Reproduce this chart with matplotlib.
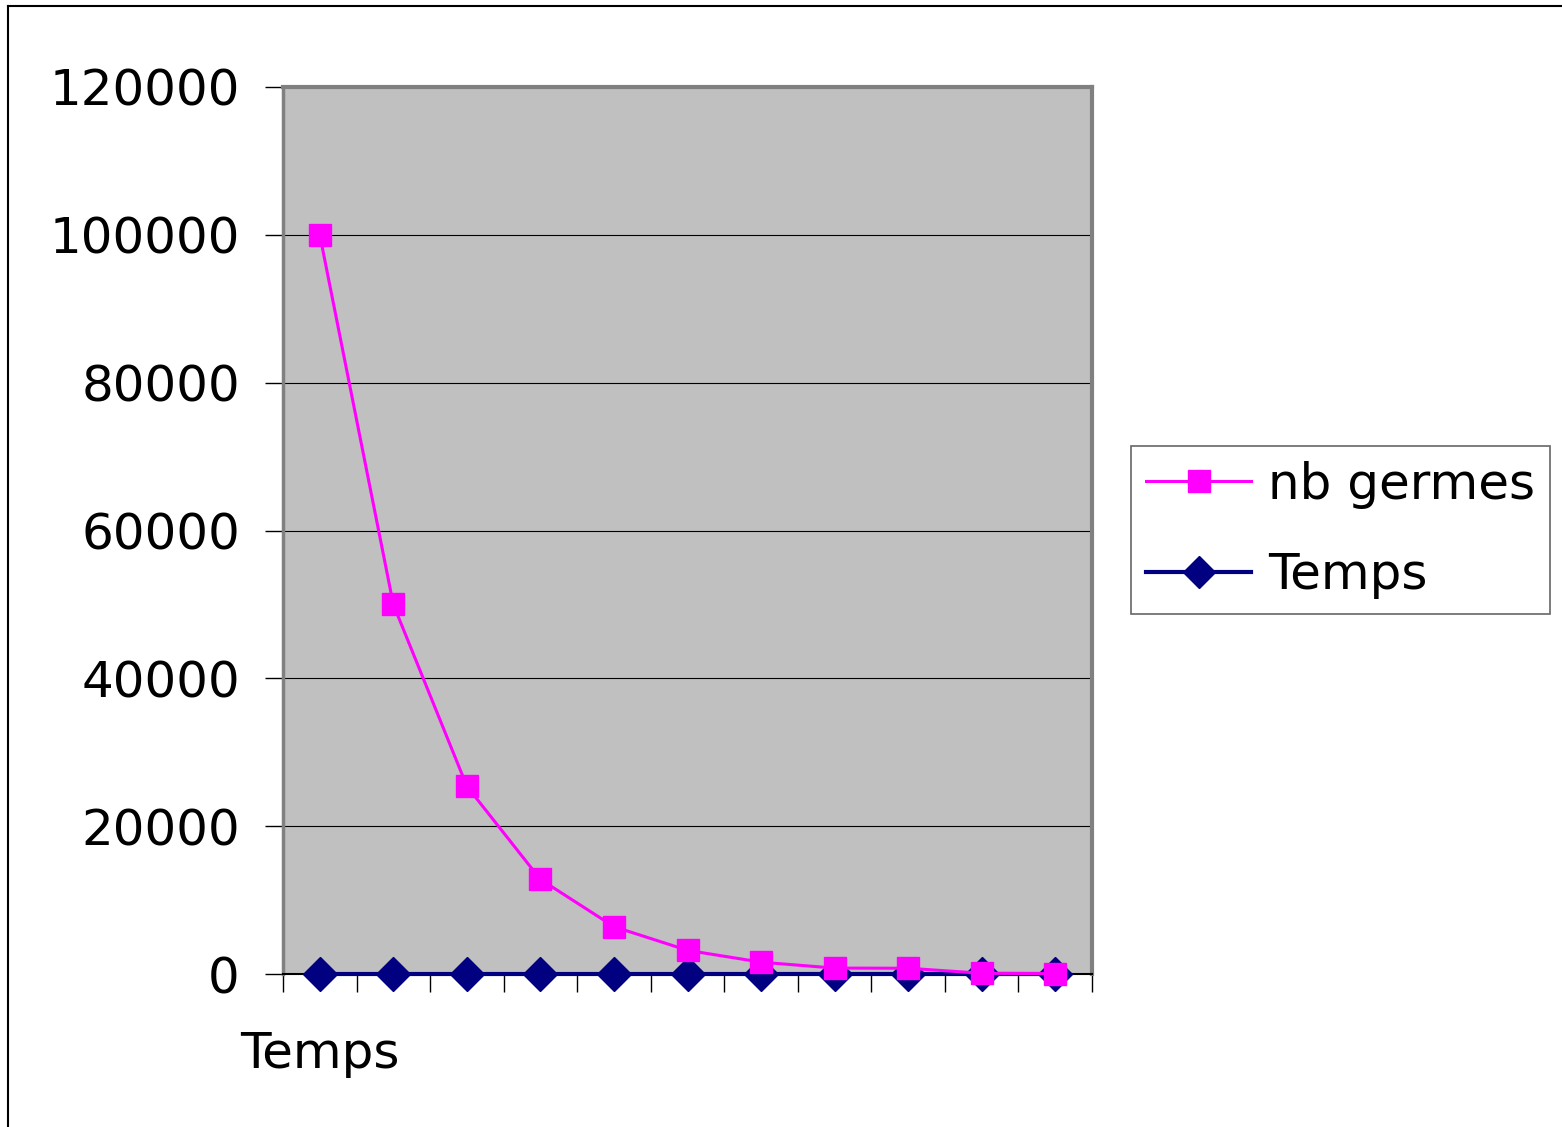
import matplotlib
matplotlib.use("Agg")
import matplotlib.pyplot as plt
from matplotlib.lines import Line2D
import numpy as np

plt.rcParams['font.family'] = ['DejaVu Sans']

categories = ["Temps", "", "", "", "", "", "", "", "", "", ""]
nb_germes = [100000, 50000, 25400, 12800, 6400, 3200, 1600, 800, 780, 100, 50]
temps = [0, 0, 0, 0, 0, 0, 0, 0, 0, 0, 0]
y_ticks = [0, 20000, 40000, 60000, 80000, 100000, 120000]

W, H = 1562, 1127
FS = 36
fig = plt.figure(figsize=(W / 100, H / 100), dpi=100)
ax = fig.add_axes([283 / W, 1 - 974 / H, (1092 - 283) / W, (974 - 87) / H])
ax.set_facecolor('#C0C0C0')

n = len(categories)
x = np.arange(n)
ax.set_xlim(-0.5, n - 0.5)
ax.set_ylim(0, 120000)

for yv in y_ticks[1:-1]:
    ax.axhline(yv, color='black', lw=0.8, zorder=1)

ax.plot(x, temps, color='#000080', lw=3, marker='D', markersize=17,
        markerfacecolor='#000080', markeredgecolor='#000080', zorder=3, clip_on=False)
ax.plot(x, nb_germes, color='#FF00FF', lw=2.2, marker='s', markersize=16,
        markerfacecolor='#FF00FF', markeredgecolor='#FF00FF', zorder=4, clip_on=False)

# y axis
ax.set_yticks(y_ticks)
ax.set_yticklabels([str(v) for v in y_ticks], fontsize=FS)
ax.tick_params(axis='y', direction='out', length=13, width=1, color='black', pad=18)

# x axis: boundary ticks, category labels
ax.set_xticks(np.arange(n + 1) - 0.5)
ax.set_xticklabels([])
ax.tick_params(axis='x', which='major', direction='out', length=13, width=1, color='black')
ax.set_xticks(x, minor=True)
ax.set_xticklabels(categories, minor=True, fontsize=FS)
ax.tick_params(axis='x', which='minor', length=0, pad=40)

for side in ['top', 'right']:
    ax.spines[side].set_color('#808080')
    ax.spines[side].set_linewidth(3)
ax.spines['left'].set_color('#808080')
ax.spines['left'].set_linewidth(2.5)
ax.spines['bottom'].set_color('black')
ax.spines['bottom'].set_linewidth(1.5)

handles = [
    Line2D([], [], color='#FF00FF', lw=2.2, marker='s', markersize=16,
           markerfacecolor='#FF00FF', markeredgecolor='#FF00FF'),
    Line2D([], [], color='#000080', lw=3, marker='D', markersize=16,
           markerfacecolor='#000080', markeredgecolor='#000080'),
]
leg = fig.legend(handles, ['nb germes', 'Temps'], loc='center left',
                 bbox_to_anchor=(1131 / W, 1 - 530 / H), fontsize=FS,
                 frameon=True, fancybox=False, edgecolor='#404040',
                 handlelength=2.1, handletextpad=0.34, borderpad=0.3,
                 labelspacing=0.85, borderaxespad=0)
leg.get_frame().set_linewidth(1.2)

# outer chart frame (left and top edges)
fig.add_artist(Line2D([8 / W, 8 / W], [0, 1 - 6 / H], color='black', lw=1.5,
                      transform=fig.transFigure))
fig.add_artist(Line2D([8 / W, 1], [1 - 6 / H, 1 - 6 / H], color='black', lw=1.5,
                      transform=fig.transFigure))

fig.savefig('out.png', dpi=100)
